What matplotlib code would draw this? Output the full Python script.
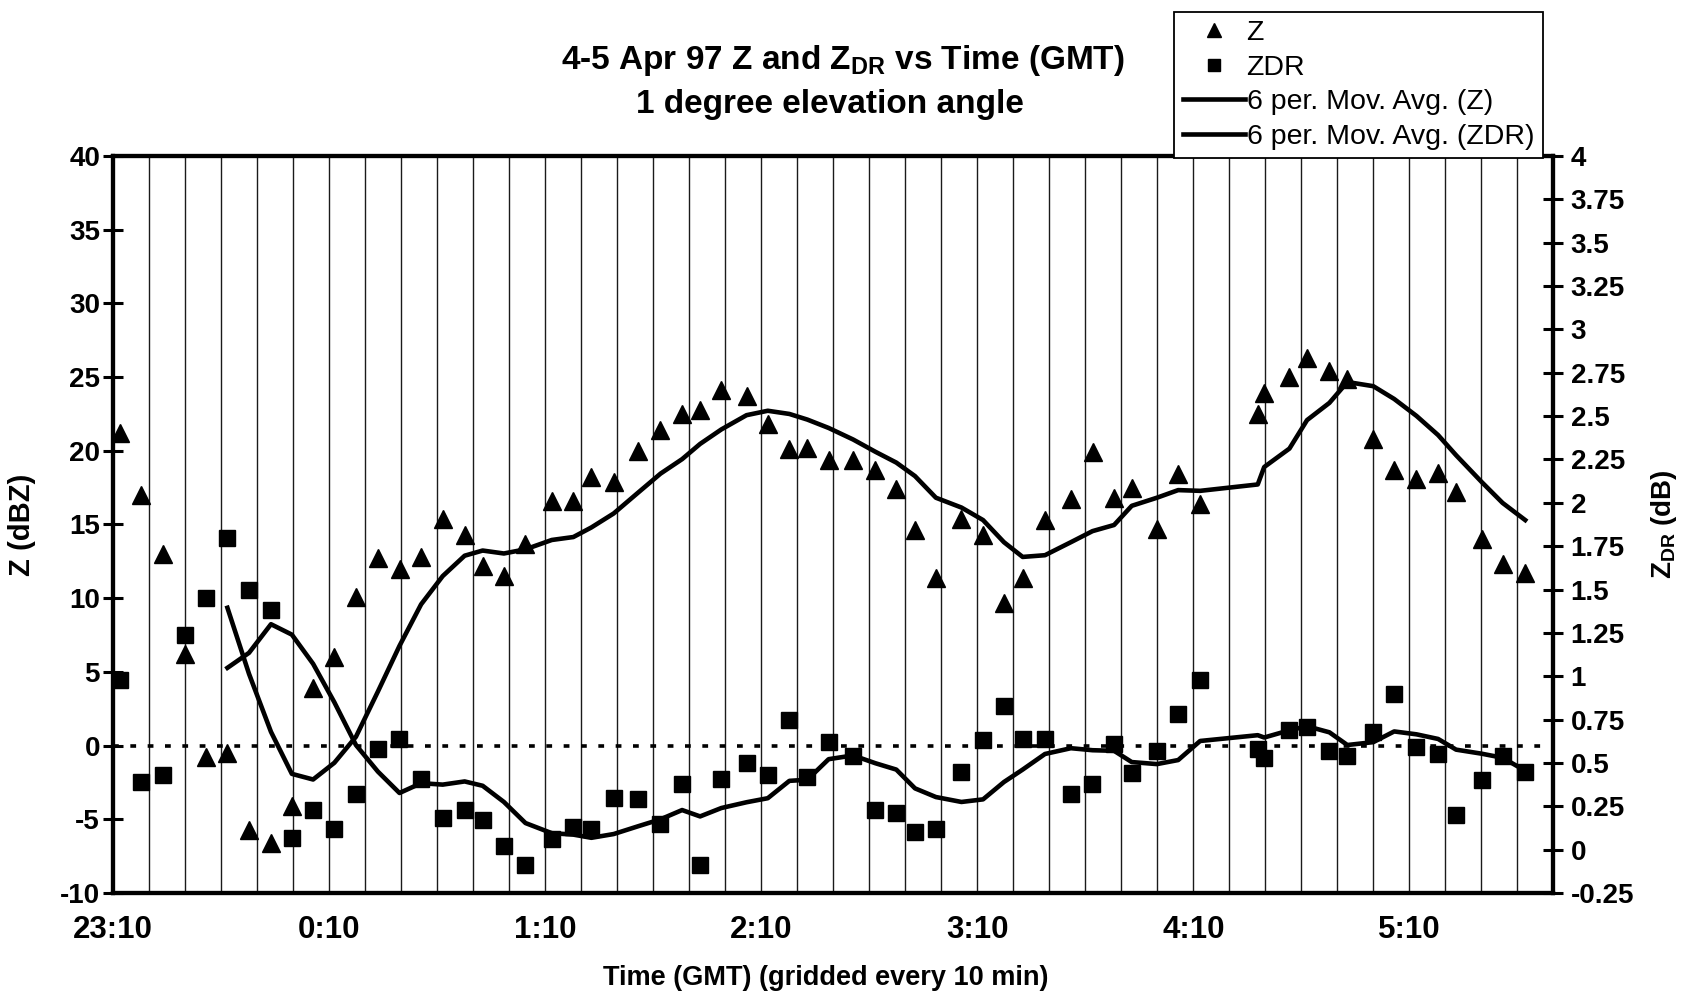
import matplotlib
matplotlib.use("Agg")
import matplotlib.pyplot as plt
import pandas as pd
from matplotlib.lines import Line2D

plt.rcParams['font.family'] = ['Liberation Sans', 'DejaVu Sans']
plt.rcParams['mathtext.fontset'] = 'custom'
plt.rcParams['mathtext.rm'] = 'Liberation Sans'
plt.rcParams['mathtext.bf'] = 'Liberation Sans:bold'
plt.rcParams['mathtext.it'] = 'Liberation Sans:italic'

# Volume-scan times, minutes after 23:10 GMT (4 Apr 97)
scan_minutes = [2.0, 7.7, 13.9, 19.8, 25.8, 31.7, 37.7, 43.8, 49.6, 55.5,
                61.4, 67.4, 73.5, 79.5, 85.5, 91.5, 97.6, 102.6, 108.5, 114.5,
                121.8, 127.8, 132.8, 139.0, 145.8, 152.0, 158.0, 163.0, 168.9, 175.9,
                181.8, 187.8, 192.8, 198.7, 205.5, 211.7, 217.5, 222.7, 228.5, 235.6,
                241.6, 247.4, 252.6, 258.8, 266.0, 272.0, 278.0, 282.9, 289.9, 295.8,
                301.9, 317.9, 319.7, 326.7, 331.6, 337.8, 342.8, 350.0, 355.8, 362.0,
                368.0, 373.0, 380.1, 385.9, 392.2]

# Reflectivity (dBZ)
z_dbz = [21.2, 17.0, 13.0, 6.2, -0.8, -0.5, -5.7, -6.6, -4.1, 3.9,
         6.0, 10.1, 12.7, 12.0, 12.8, 15.4, 14.3, 12.2, 11.5, 13.7,
         16.6, 16.6, 18.2, 17.9, 20.0, 21.4, 22.5, 22.8, 24.1, 23.7,
         21.8, 20.1, 20.2, 19.4, 19.4, 18.7, 17.4, 14.6, 11.4, 15.4,
         14.3, 9.7, 11.4, 15.3, 16.7, 19.9, 16.8, 17.5, 14.7, 18.4,
         16.4, 22.5, 23.9, 25.0, 26.3, 25.4, 24.9, 20.8, 18.7, 18.1,
         18.5, 17.2, 14.0, 12.3, 11.7]

# Differential reflectivity (dB)
zdr_db = [0.98, 0.39, 0.43, 1.24, 1.45, 1.80, 1.50, 1.38, 0.07, 0.23,
          0.12, 0.32, 0.58, 0.64, 0.41, 0.18, 0.23, 0.17, 0.02, -0.09,
          0.06, 0.13, 0.12, 0.30, 0.29, 0.15, 0.38, -0.09, 0.41, 0.50,
          0.43, 0.75, 0.42, 0.62, 0.54, 0.23, 0.21, 0.10, 0.12, 0.45,
          0.63, 0.83, 0.64, 0.64, 0.32, 0.38, 0.61, 0.44, 0.57, 0.78,
          0.98, 0.58, 0.53, 0.69, 0.71, 0.57, 0.54, 0.68, 0.90, 0.59,
          0.55, 0.20, 0.40, 0.54, 0.45]

hour_ticks = [0, 60, 120, 180, 240, 300, 360]
hour_labels = ['23:10', '0:10', '1:10', '2:10', '3:10', '4:10', '5:10']
z_ticks = [-10, -5, 0, 5, 10, 15, 20, 25, 30, 35, 40]
zdr_ticks = [-0.25, 0, 0.25, 0.5, 0.75, 1, 1.25, 1.5, 1.75, 2, 2.25, 2.5,
             2.75, 3, 3.25, 3.5, 3.75, 4]
MA_PERIOD = 6

df = pd.DataFrame({'t': scan_minutes, 'z': z_dbz, 'zdr': zdr_db}).sort_values('t')
df['z_ma'] = df['z'].rolling(MA_PERIOD).mean()
df['zdr_ma'] = df['zdr'].rolling(MA_PERIOD).mean()
ma = df.dropna()

W, H = 1683, 997
fig = plt.figure(figsize=(W / 100, H / 100), dpi=100)
left, right, top, bottom = 113.3, 1553.3, 156.0, 893.0
ax = fig.add_axes([left / W, 1 - bottom / H, (right - left) / W, (bottom - top) / H])
ax2 = ax.twinx()

ax.set_xlim(0, 400)
ax.set_ylim(-10, 40)
ax2.set_ylim(-0.25, 4)

# 10-minute grid, hourly labels
ax.set_xticks(range(0, 401, 10), minor=True)
ax.set_xticks(hour_ticks)
ax.set_xticklabels(hour_labels)
ax.grid(True, which='both', axis='x', color='#1a1a1a', lw=1.0, zorder=0)
ax.grid(False, axis='y')
ax.set_axisbelow(True)
ax.tick_params(axis='x', which='both', length=0, pad=16, labelsize=22.5)
for lab in ax.get_xticklabels():
    lab.set_fontweight('bold')

ax.set_yticks(z_ticks)
ax.set_yticklabels([str(v) for v in z_ticks])
ax.tick_params(axis='y', direction='inout', length=15, width=2.2, pad=2, labelsize=20)
for lab in ax.get_yticklabels():
    lab.set_fontweight('bold')

ax2.set_yticks(zdr_ticks)
ax2.set_yticklabels([f'{v:g}' for v in zdr_ticks])
ax2.tick_params(axis='y', direction='inout', length=15, width=2.2, pad=5, labelsize=20)
for lab in ax2.get_yticklabels():
    lab.set_fontweight('bold')

for a in (ax, ax2):
    for s in a.spines.values():
        s.set_linewidth(3.0)
        s.set_color('black')

# Zero-dBZ reference line
ax.axhline(0, color='black', lw=2.6, ls=(0, (1.6, 3.2)), zorder=2)

# Data points
ax.plot(df['t'], df['z'], ls='none', marker='^', ms=13, color='black', zorder=4)
ax2.plot(df['t'], df['zdr'], ls='none', marker='s', ms=11.5, color='black', zorder=4)

# Moving-average trendlines
ax.plot(ma['t'], ma['z_ma'], color='black', lw=3.3, zorder=3)
ax2.plot(ma['t'], ma['zdr_ma'], color='black', lw=3.3, zorder=3)

span_x = right - left
span_y = bottom - top
ax.set_ylabel('Z (dBZ)', fontsize=21, fontweight='bold', ha='center', va='center')
ax.yaxis.set_label_coords((22 - left) / span_x, 0.5)
ax2.set_ylabel(r'Z$_\mathbf{DR}$ (dB)', fontsize=20, fontweight='bold',
               rotation=90, ha='center', va='center')
ax2.yaxis.set_label_coords((1664 - left) / span_x, 0.5)
ax.set_xlabel('Time (GMT) (gridded every 10 min)', fontsize=19.5, fontweight='bold',
              ha='center', va='center')
ax.xaxis.set_label_coords((826 - left) / span_x, -(978 - bottom) / span_y)

fig.text(843 / W, 1 - 61 / H, r'4-5 Apr 97 Z and Z$_\mathbf{DR}$ vs Time (GMT)',
         ha='center', va='center', fontsize=24, fontweight='bold')
fig.text(830 / W, 1 - 105 / H, '1 degree elevation angle',
         ha='center', va='center', fontsize=24, fontweight='bold')

handles = [
    Line2D([], [], ls='none', marker='^', ms=10, color='black'),
    Line2D([], [], ls='none', marker='s', ms=9, color='black'),
    Line2D([], [], color='black', lw=3.3),
    Line2D([], [], color='black', lw=3.3),
]
labels = ['Z', 'ZDR', '6 per. Mov. Avg. (Z)', '6 per. Mov. Avg. (ZDR)']
leg = fig.legend(handles, labels, loc='upper left',
                 bbox_to_anchor=(1174 / W, 1 - 11.7 / H), bbox_transform=fig.transFigure,
                 borderaxespad=0, frameon=True, fancybox=False, edgecolor='black',
                 framealpha=1, fontsize=20.5, handlelength=2.2, handletextpad=0.05,
                 labelspacing=0.3, borderpad=0.3)
leg.get_frame().set_linewidth(1.3)
leg.set_zorder(10)

fig.savefig('out.png', dpi=100)
